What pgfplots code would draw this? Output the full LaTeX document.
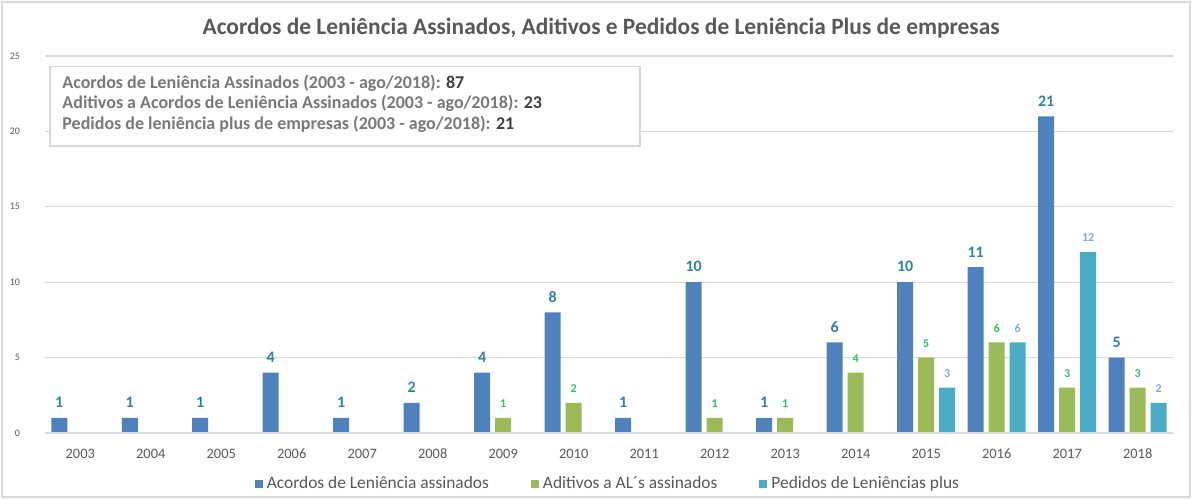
\documentclass[border=0pt]{standalone}
\usepackage{pgfplots}
\pgfplotsset{compat=1.18}
\usepackage{fontspec}
\setmainfont{Carlito}
\definecolor{cblue}{HTML}{4F81BD}
\definecolor{cgreen}{HTML}{9BBB59}
\definecolor{cteal}{HTML}{4BACC6}
\definecolor{lblue}{HTML}{31849B}
\definecolor{lgreen}{HTML}{2EC264}
\definecolor{lteal}{HTML}{7FA7DE}
\definecolor{gridc}{HTML}{D9D9D9}
\definecolor{txtc}{HTML}{595959}
\begin{document}
\begin{tikzpicture}
\begin{axis}[
  scale only axis, width=564pt, height=188.5pt,
  ybar, bar width=8pt,
  xmin=-0.5, xmax=15.5, ymin=0, ymax=25,
  xtick={0,...,15},
  xticklabels={2003,2004,2005,2006,2007,2008,2009,2010,2011,2012,2013,2014,2015,2016,2017,2018},
  ytick={0,5,...,25},
  major tick length=0pt,
  axis line style={draw=none},
  ymajorgrids, grid style={gridc, line width=0.6pt},
  /pgf/number format/assume math mode=true,
  xticklabel style={font=\fontsize{7.2}{8}\selectfont, text=txtc, yshift=-4.5pt},
  yticklabel style={font=\fontsize{5}{6}\selectfont, text=txtc, xshift=-9pt},
  clip=false,
  legend style={at={(0.5,-0.136)}, anchor=center, draw=none, legend columns=3,
    font=\fontsize{8.7}{10}\selectfont, text=txtc,
    /tikz/every even column/.append style={column sep=19pt}},
  legend image code/.code={\fill[#1] (0pt,-2pt) rectangle (4pt,2pt);},
  nodes near coords,
  every node near coord/.append style={font=\bfseries\fontsize{6}{7}\selectfont, yshift=1.5pt},
]
\addplot[fill=cblue, draw=none, bar shift=-10.5pt,
  every node near coord/.append style={text=lblue, font=\bfseries\fontsize{8}{9}\selectfont}]
  coordinates {(0,1)(1,1)(2,1)(3,4)(4,1)(5,2)(6,4)(7,8)(8,1)(9,10)(10,1)(11,6)(12,10)(13,11)(14,21)(15,5)};
\addplot[fill=cgreen, draw=none, bar shift=0pt,
  every node near coord/.append style={text=lgreen}]
  coordinates {(6,1)(7,2)(9,1)(10,1)(11,4)(12,5)(13,6)(14,3)(15,3)};
\addplot[fill=cteal, draw=none, bar shift=10.5pt,
  every node near coord/.append style={text=lteal}]
  coordinates {(12,3)(13,6)(14,12)(15,2)};
\legend{Acordos de Leniência assinados, Aditivos a AL´s assinados, Pedidos de Leniências plus}
\draw[gridc, line width=0.8pt] (rel axis cs:0,0) -- (rel axis cs:1,0);
\node[font=\bfseries\fontsize{11.7}{13}\selectfont, text=txtc] at (rel axis cs:0.493,1.075)
  {Acordos de Leniência Assinados, Aditivos e Pedidos de Leniência Plus de empresas};
\draw[gridc, fill=white, line width=0.6pt] (rel axis cs:0.0044,0.973) rectangle (rel axis cs:0.5275,0.761);
\node[anchor=west, font=\bfseries\fontsize{9}{10}\selectfont, text=gray!95!black, inner sep=0pt] at (rel axis cs:0.0151,0.928)
  {Acordos de Leniência Assinados (2003 - ago/2018): \textcolor{black!75}{87}};
\node[anchor=west, font=\bfseries\fontsize{9}{10}\selectfont, text=gray!95!black, inner sep=0pt] at (rel axis cs:0.0151,0.874)
  {Aditivos a Acordos de Leniência Assinados (2003 - ago/2018): \textcolor{black!75}{23}};
\node[anchor=west, font=\bfseries\fontsize{9}{10}\selectfont, text=gray!95!black, inner sep=0pt] at (rel axis cs:0.0151,0.818)
  {Pedidos de leniência plus de empresas (2003 - ago/2018): \textcolor{black!75}{21}};
\coordinate (BL) at (rel axis cs:-0.0399,-0.175);
\coordinate (TR) at (rel axis cs:1.0169,1.1485);
\end{axis}
\draw[gridc, line width=0.6pt] ([shift={(1pt,1pt)}]BL) rectangle ([shift={(-1pt,-1pt)}]TR);
\pgfresetboundingbox
\useasboundingbox (BL) rectangle (TR);
\end{tikzpicture}
\end{document}
